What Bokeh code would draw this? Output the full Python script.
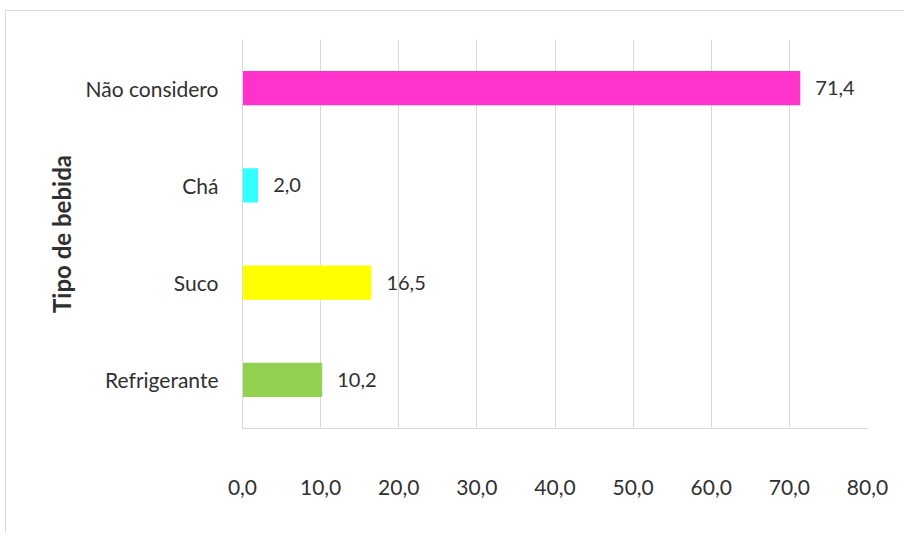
from bokeh.plotting import figure
from bokeh.models import ColumnDataSource, FactorRange, Range1d, FixedTicker
from bokeh.core.properties import value
from bokeh.embed import file_html
from bokeh.resources import INLINE

categories = ["Refrigerante", "Suco", "Chá", "Não considero"]
values = [10.2, 16.5, 2.0, 71.4]
colors = ["#92D050", "#FFFF00", "#33FFFF", "#FF33CC"]
labels = ["10,2", "16,5", "2,0", "71,4"]
x_ticks = [0, 10, 20, 30, 40, 50, 60, 70, 80]
x_tick_labels = ["0,0", "10,0", "20,0", "30,0", "40,0", "50,0", "60,0", "70,0", "80,0"]

FONT = "Lato"
TXT = "#303030"
FS = "21px"

src = ColumnDataSource(dict(cat=categories, val=values, col=colors, lab=labels))

p = figure(width=899, height=523, y_range=FactorRange(factors=categories, range_padding=0),
           x_range=Range1d(0, 80), output_backend="svg", toolbar_location=None,
           min_border_left=236, min_border_right=38, min_border_top=28, min_border_bottom=106)
p.margin = (10, 0, 0, 5)
p.styles = {"border-top": "1px solid #d9d9d9", "border-left": "1px solid #d9d9d9"}

p.hbar(y="cat", right="val", left=0, height=0.35, fill_color="col", line_color=None, source=src)
p.text(x="val", y="cat", text="lab", source=src, x_offset=15, text_baseline="middle",
       text_align="left", text_font=value(FONT), text_font_size="20px", text_color=TXT)

p.outline_line_color = None
p.ygrid.grid_line_color = None
p.xgrid.grid_line_color = "#d9d9d9"
p.xgrid.ticker = FixedTicker(ticks=x_ticks)

xa = p.xaxis[0]
xa.ticker = FixedTicker(ticks=x_ticks)
xa.major_label_overrides = {t: l for t, l in zip(x_ticks, x_tick_labels)}
xa.axis_line_color = "#d9d9d9"
xa.major_tick_line_color = None
xa.minor_tick_line_color = None
xa.major_label_standoff = 45
xa.major_label_text_font = FONT
xa.major_label_text_font_size = FS
xa.major_label_text_color = TXT

ya = p.yaxis[0]
ya.axis_line_color = "#d9d9d9"
ya.major_tick_line_color = None
ya.minor_tick_line_color = None
ya.major_label_standoff = 18
ya.major_label_text_font = FONT
ya.major_label_text_font_size = FS
ya.major_label_text_color = TXT
ya.axis_label = "Tipo de bebida"
ya.axis_label_text_font = FONT
ya.axis_label_text_font_style = "bold"
ya.axis_label_text_font_size = "24px"
ya.axis_label_text_color = TXT
ya.axis_label_standoff = 6

open("out.html", "w").write(file_html(p, INLINE))
